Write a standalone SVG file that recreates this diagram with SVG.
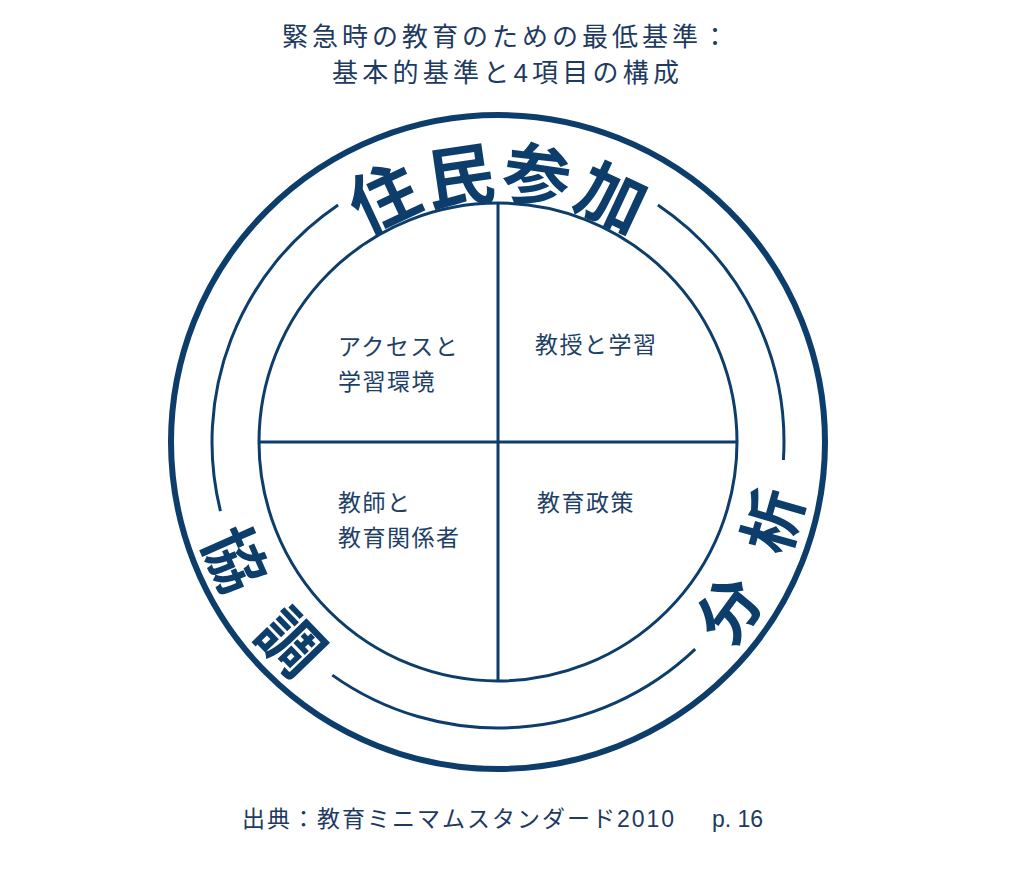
<svg xmlns="http://www.w3.org/2000/svg" width="1011" height="883" viewBox="0 0 1011 883">
  <style>
    .ring{fill:none;stroke:#0D3D6B}
    .title{font-family:"Liberation Sans","Noto Sans CJK JP",sans-serif;font-size:26px;fill:#1E3A5F}
    .lbl{font-family:"Noto Sans CJK JP",sans-serif;font-size:23px;fill:#1E3F66;letter-spacing:1.5px}
    .big{font-family:"Noto Sans CJK JP",sans-serif;font-weight:700;fill:#0D3D6B;text-anchor:middle;dominant-baseline:central}
    .src{font-family:"Liberation Sans","Noto Sans CJK JP",sans-serif;font-size:23px;fill:#1E3A5F}
  </style>
  <rect width="1011" height="883" fill="#ffffff"/>
  <g id="title">
    <text class="title" x="282" y="46" textLength="446" lengthAdjust="spacing">緊急時の教育のための最低基準：</text>
    <text class="title" x="332" y="82" textLength="347" lengthAdjust="spacing">基本的基準と4項目の構成</text>
  </g>
  <g id="rings">
    <circle class="ring" cx="498" cy="442" r="327" stroke-width="6"/>
    <circle class="ring" cx="498" cy="442" r="239" stroke-width="3"/>
  </g>
  <g id="connectors">
    <path class="ring" stroke-width="3" d="M220.5 511.2 A286 286 0 0 1 338.1 204.9"/>
    <path class="ring" stroke-width="3" d="M657.9 204.9 A286 286 0 0 1 783.4 460"/>
    <path class="ring" stroke-width="3" d="M695.2 649.1 A286 286 0 0 1 332.3 675.1"/>
    <line class="ring" stroke-width="3" x1="498" y1="203" x2="498" y2="681"/>
    <line class="ring" stroke-width="3" x1="259" y1="442" x2="737" y2="442"/>
  </g>
  <g id="participation">
    <text class="big" font-size="68" transform="translate(382.2 193.7) rotate(-25)">住</text>
    <text class="big" font-size="68" transform="translate(459.4 171.9) rotate(-8.3)">民</text>
    <text class="big" font-size="68" transform="translate(537.6 170.9) rotate(8.3)">参</text>
    <text class="big" font-size="68" transform="translate(613.8 193.7) rotate(25)">加</text>
  </g>
  <g id="analysis">
    <text class="big" font-size="63" transform="translate(726.1 607.8) rotate(-54)">分</text>
    <text class="big" font-size="63" transform="translate(769.1 519.7) rotate(-74)">析</text>
  </g>
  <g id="coordination">
    <text class="big" font-size="63" transform="translate(238.6 557.5) rotate(66)">協</text>
    <text class="big" font-size="63" transform="translate(293.7 639.3) rotate(46)">調</text>
  </g>
  <g id="access">
    <text class="lbl" x="338" y="355">アクセスと</text>
    <text class="lbl" x="338" y="390">学習環境</text>
  </g>
  <g id="teaching">
    <text class="lbl" x="535" y="353">教授と学習</text>
  </g>
  <g id="teachers">
    <text class="lbl" x="338" y="511">教師と</text>
    <text class="lbl" x="338" y="546">教育関係者</text>
  </g>
  <g id="policy">
    <text class="lbl" x="537" y="511">教育政策</text>
  </g>
  <g id="source">
    <text class="src" x="242" y="827" letter-spacing="2">出典：教育ミニマムスタンダード2010</text>
    <text class="src" x="712" y="827" font-size="22">p. 16</text>
  </g>
</svg>
